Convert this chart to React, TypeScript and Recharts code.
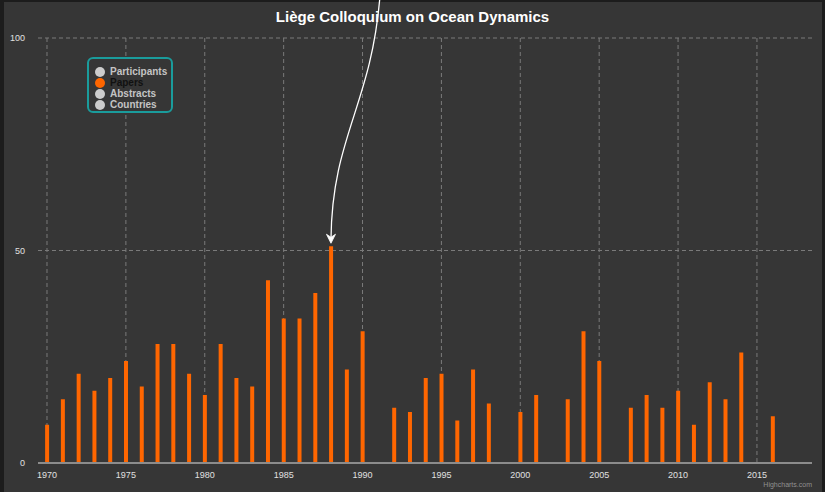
import React from "react";
import { BarChart, Bar, XAxis, YAxis, CartesianGrid, ReferenceDot } from "recharts";

const years = [
  1970, 1971, 1972, 1973, 1974, 1975, 1976, 1977, 1978, 1979, 1980, 1981, 1982, 1983, 1984, 1985, 1986,
  1987, 1988, 1989, 1990, 1992, 1993, 1994, 1995, 1996, 1997, 1998, 2000, 2001, 2003, 2004, 2005, 2007,
  2008, 2009, 2010, 2011, 2012, 2013, 2014, 2016,
];
const papers = [
  9, 15, 21, 17, 20, 24, 18, 28, 28, 21, 16, 28, 20, 18, 43, 34, 34, 40, 51, 22, 31, 13, 12, 20, 21, 10,
  22, 14, 12, 16, 15, 31, 24, 13, 16, 13, 17, 9, 19, 15, 26, 11,
];
const xTicks = [1970, 1975, 1980, 1985, 1990, 1995, 2000, 2005, 2010, 2015];
const yTicks = [0, 50, 100];
const seriesNames = ["Participants", "Papers", "Abstracts", "Countries"];
const shownSeries = "Papers";
const highlightYear = 1988;

const data = years.map((year, i) => ({ year, papers: papers[i] }));

const FONT = '"Liberation Sans", Arial, sans-serif';

function Arrow(props: any) {
  const { cx, cy } = props;
  if (cx == null || cy == null) return null;
  const tipY = cy - 3;
  return (
    <g>
      <path
        d={`M ${cx + 49} ${cy - 250} C ${cx + 40} ${cy - 140}, ${cx + 1} ${cy - 110}, ${cx} ${tipY - 4}`}
        fill="none"
        stroke="#ffffff"
        strokeWidth={1.3}
      />
      <path
        d={`M ${cx} ${tipY} L ${cx - 4.5} ${tipY - 9} L ${cx} ${tipY - 6} L ${cx + 4.5} ${tipY - 9} Z`}
        fill="#ffffff"
        stroke="#ffffff"
        strokeWidth={0.8}
      />
    </g>
  );
}

function LegendBox() {
  return (
    <div
      style={{
        position: "absolute",
        left: 87,
        top: 57,
        width: 82,
        height: 45,
        border: "2px solid #1a9c9c",
        borderRadius: 6,
        background: "#363636",
        fontFamily: FONT,
        fontSize: 10,
        fontWeight: 700,
        paddingTop: 7,
        boxSizing: "content-box",
      }}
    >
      {seriesNames.map((name) => {
        const on = name === shownSeries;
        return (
          <div key={name} style={{ display: "flex", alignItems: "center", height: 11 }}>
            <span
              style={{
                display: "inline-block",
                width: 10,
                height: 10,
                borderRadius: 5,
                marginLeft: 6,
                marginRight: 5,
                background: on ? "#ff6600" : "#cccccc",
              }}
            />
            <span style={{ color: on ? "#111111" : "#c4c4c4" }}>{name}</span>
          </div>
        );
      })}
    </div>
  );
}

export default function App() {
  return (
    <div style={{ position: "absolute", left: 0, top: 0, width: 825, height: 492, background: "#1c1c1c", overflow: "hidden" }}>
      <div style={{ position: "absolute", left: 4, top: 2, width: 818, height: 490, background: "#363636" }} />
      <div
        style={{
          position: "absolute",
          left: 0,
          top: 8,
          width: 825,
          textAlign: "center",
          color: "#ffffff",
          fontFamily: FONT,
          fontSize: 15,
          fontWeight: 700,
        }}
      >
        Liège Colloquium on Ocean Dynamics
      </div>
      <div style={{ position: "absolute", left: 0, top: 0 }}>
        <BarChart width={825} height={492} data={data} margin={{ top: 38, right: 13, bottom: 9, left: 8 }}>
          <CartesianGrid
            stroke="#7a7a7a"
            strokeDasharray="4 3"
            verticalValues={xTicks}
            horizontalValues={[50, 100]}
          />
          <XAxis
            dataKey="year"
            type="number"
            domain={[1969.43, 2018.49]}
            ticks={xTicks}
            allowDataOverflow
            height={20}
            tickLine={false}
            tickMargin={3}
            stroke="#8c8c8c"
            strokeWidth={2}
            tick={{ fill: "#e0e0e0", fontSize: 9, fontFamily: FONT }}
          />
          <YAxis
            type="number"
            domain={[0, 100]}
            ticks={yTicks}
            width={30}
            axisLine={false}
            tickLine={false}
            tickMargin={7}
            tick={{ fill: "#e0e0e0", fontSize: 9, fontFamily: FONT }}
          />
          <Bar dataKey="papers" fill="#ff6600" barSize={4} isAnimationActive={false} />
          <ReferenceDot x={highlightYear} y={papers[years.indexOf(highlightYear)]} r={3} shape={Arrow} />
        </BarChart>
      </div>
      <LegendBox />
      <div
        style={{
          position: "absolute",
          right: 13,
          top: 481,
          color: "#909090",
          fontFamily: FONT,
          fontSize: 7,
        }}
      >
        Highcharts.com
      </div>
    </div>
  );
}
